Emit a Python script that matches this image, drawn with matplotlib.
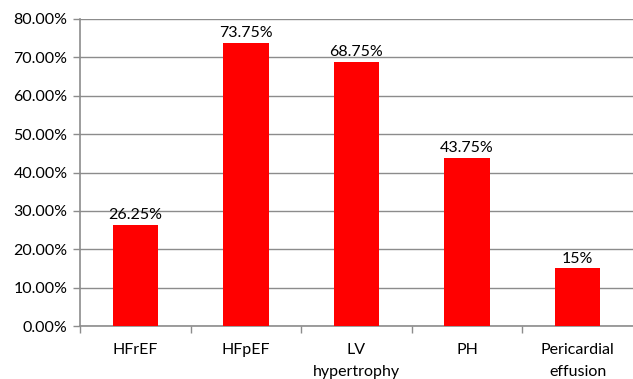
import matplotlib
matplotlib.use("Agg")
import matplotlib.pyplot as plt
from matplotlib.ticker import FuncFormatter, FixedLocator

categories = ["HFrEF", "HFpEF", "LV\nhypertrophy", "PH", "Pericardial\neffusion"]
values = [26.25, 73.75, 68.75, 43.75, 15.0]
value_labels = ["26.25%", "73.75%", "68.75%", "43.75%", "15%"]
y_ticks = [0, 10, 20, 30, 40, 50, 60, 70, 80]

plt.rcParams["font.family"] = ["Lato", "DejaVu Sans"]
FS = 11.5

fig = plt.figure(figsize=(6.33, 3.79), dpi=100)
ax = fig.add_axes([80 / 633, 1 - 326 / 379, 553 / 633, 307 / 379])

x = list(range(len(categories)))
ax.bar(x, values, width=0.41, color="#ff0000", zorder=3)

for xi, v, lab in zip(x, values, value_labels):
    ax.annotate(lab, (xi, v), xytext=(0, 2), textcoords="offset points",
                ha="center", va="bottom", fontsize=FS, color="#000000", zorder=4)

ax.set_xlim(-0.5, len(categories) - 0.5)
ax.set_ylim(0, 80)
ax.set_yticks(y_ticks)
ax.yaxis.set_major_formatter(FuncFormatter(lambda v, p: f"{v:.2f}%"))
ax.yaxis.grid(True, color="#8c8c8c", linewidth=1.0, zorder=0)

ax.set_xticks(x)
ax.set_xticklabels(categories, fontsize=FS, linespacing=1.75)
ax.tick_params(axis="x", length=0, pad=12)
ax.xaxis.set_minor_locator(FixedLocator([i - 0.5 for i in range(len(categories))]))
ax.tick_params(axis="x", which="minor", length=5, color="#8c8c8c", width=1)
ax.tick_params(axis="y", length=5, color="#8c8c8c", width=1, labelsize=FS, pad=4)

for side in ["top", "right"]:
    ax.spines[side].set_visible(False)
for side in ["left", "bottom"]:
    ax.spines[side].set_color("#8c8c8c")
    ax.spines[side].set_linewidth(1.2)

fig.savefig("out.png", dpi=100)
